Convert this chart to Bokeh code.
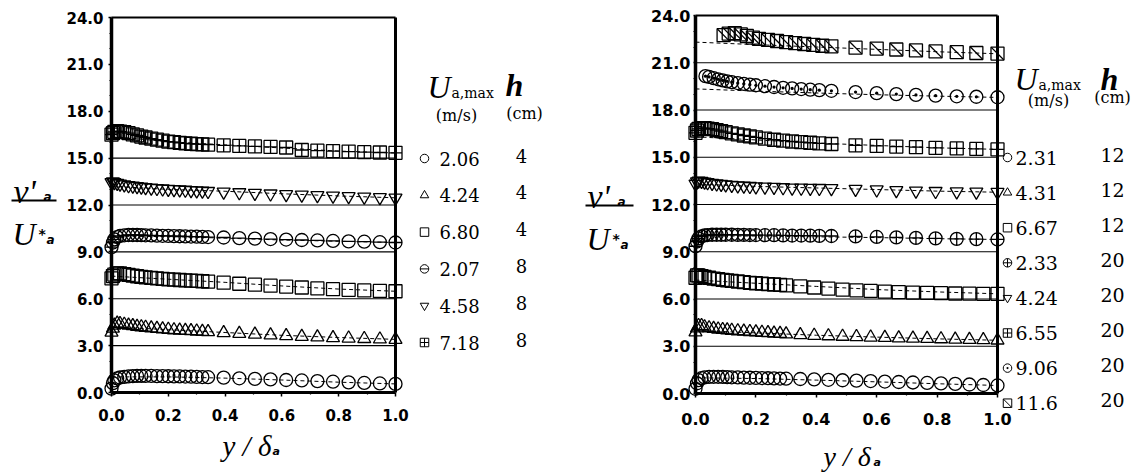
import math
from bokeh.plotting import figure
from bokeh.layouts import row
from bokeh.models import Range1d, LinearAxis, FixedTicker, NumeralTickFormatter
from bokeh.core.properties import value
from bokeh.embed import file_html
from bokeh.resources import INLINE

# ---------------- measured profiles (v'/U*, each run shifted by +3) ----------------
# left panel: h = 4 cm and 8 cm
x_left = [0.0, 0.005, 0.01, 0.02, 0.03, 0.045, 0.06, 0.075, 0.09, 0.105, 0.12, 0.14,
          0.16, 0.18, 0.20, 0.22, 0.24, 0.26, 0.28, 0.30, 0.32, 0.34, 0.395, 0.45,
          0.505, 0.56, 0.615, 0.67, 0.725, 0.78, 0.835, 0.89, 0.945, 1.0]
left_206 = [0.25, 0.6, 0.78, 0.9, 0.96, 1.0, 1.03, 1.05, 1.06, 1.06, 1.06, 1.06,
            1.05, 1.05, 1.04, 1.03, 1.03, 1.02, 1.01, 1.0, 0.99, 0.98, 0.95, 0.91,
            0.87, 0.84, 0.8, 0.77, 0.73, 0.69, 0.65, 0.61, 0.58, 0.55]
left_424 = [3.85, 4.1, 4.3, 4.42, 4.4, 4.35, 4.3, 4.26, 4.22, 4.19, 4.16, 4.12,
            4.09, 4.06, 4.03, 4.0, 3.98, 3.96, 3.94, 3.92, 3.9, 3.88, 3.82, 3.77,
            3.72, 3.67, 3.62, 3.58, 3.54, 3.5, 3.47, 3.44, 3.41, 3.38]
left_680 = [7.3, 7.45, 7.55, 7.62, 7.62, 7.58, 7.53, 7.48, 7.44, 7.4, 7.37, 7.33,
            7.3, 7.27, 7.24, 7.22, 7.2, 7.18, 7.16, 7.14, 7.12, 7.1, 7.03, 6.96,
            6.9, 6.84, 6.78, 6.72, 6.66, 6.61, 6.57, 6.53, 6.5, 6.48]
left_207 = [9.3, 9.6, 9.8, 9.95, 10.02, 10.06, 10.08, 10.08, 10.08, 10.07, 10.06, 10.05,
            10.04, 10.03, 10.02, 10.01, 10.0, 9.99, 9.98, 9.97, 9.96, 9.95, 9.92, 9.88,
            9.85, 9.82, 9.79, 9.76, 9.73, 9.7, 9.67, 9.65, 9.62, 9.6]
left_458 = [13.45, 13.5, 13.45, 13.4, 13.35, 13.3, 13.25, 13.22, 13.19, 13.16, 13.13, 13.1,
            13.07, 13.04, 13.02, 13.0, 12.98, 12.96, 12.94, 12.92, 12.9, 12.88, 12.84, 12.8,
            12.76, 12.72, 12.68, 12.65, 12.62, 12.58, 12.55, 12.52, 12.49, 12.46]
left_718 = [16.5, 16.6, 16.68, 16.72, 16.7, 16.66, 16.6, 16.52, 16.45, 16.38, 16.32, 16.25,
            16.18, 16.12, 16.06, 16.02, 15.98, 15.95, 15.92, 15.9, 15.88, 15.86, 15.82, 15.78,
            15.75, 15.72, 15.68, 15.52, 15.48, 15.45, 15.42, 15.38, 15.36, 15.34]

# right panel: h = 12 cm
x_right_h12 = [0.0, 0.005, 0.01, 0.02, 0.03, 0.045, 0.06, 0.075, 0.09, 0.105, 0.12, 0.14,
               0.16, 0.18, 0.20, 0.22, 0.24, 0.26, 0.28, 0.30, 0.347, 0.393, 0.44, 0.487,
               0.533, 0.58, 0.627, 0.673, 0.72, 0.767, 0.813, 0.86, 0.907, 0.953, 1.0]
right_231 = [0.3, 0.65, 0.85, 0.97, 1.02, 1.05, 1.06, 1.06, 1.05, 1.04, 1.03, 1.02,
             1.01, 1.0, 0.99, 0.98, 0.97, 0.96, 0.95, 0.94, 0.92, 0.9, 0.87, 0.84,
             0.82, 0.79, 0.76, 0.73, 0.7, 0.67, 0.64, 0.61, 0.57, 0.54, 0.51]
right_431 = [3.9, 4.15, 4.3, 4.3, 4.22, 4.16, 4.12, 4.08, 4.05, 4.02, 4.0, 3.97,
             3.94, 3.92, 3.9, 3.87, 3.85, 3.82, 3.8, 3.77, 3.72, 3.68, 3.65, 3.62,
             3.6, 3.57, 3.55, 3.52, 3.5, 3.48, 3.46, 3.44, 3.42, 3.4, 3.38]
right_667 = [7.35, 7.5, 7.5, 7.45, 7.4, 7.35, 7.3, 7.26, 7.22, 7.18, 7.15, 7.11,
             7.07, 7.03, 7.0, 6.97, 6.94, 6.92, 6.9, 6.87, 6.8, 6.73, 6.66, 6.6,
             6.55, 6.51, 6.47, 6.44, 6.41, 6.39, 6.37, 6.35, 6.34, 6.33, 6.33]

# right panel: h = 20 cm
x_right_h20 = [0.0, 0.005, 0.01, 0.02, 0.03, 0.04, 0.055, 0.07, 0.085, 0.10, 0.12, 0.14,
               0.16, 0.18, 0.20, 0.23, 0.26, 0.29, 0.32, 0.35, 0.38, 0.41, 0.45,
               0.53, 0.60, 0.665, 0.73, 0.795, 0.865, 0.93, 1.0]
right_233 = [9.35, 9.65, 9.85, 9.98, 10.04, 10.06, 10.08, 10.08, 10.08, 10.08, 10.08, 10.07,
             10.07, 10.06, 10.06, 10.05, 10.05, 10.04, 10.03, 10.03, 10.02, 10.01, 10.0,
             9.97, 9.94, 9.91, 9.88, 9.85, 9.82, 9.8, 9.78]
right_424 = [13.3, 13.45, 13.5, 13.48, 13.44, 13.4, 13.36, 13.32, 13.29, 13.26, 13.23, 13.2,
             13.18, 13.16, 13.14, 13.12, 13.1, 13.08, 13.06, 13.05, 13.04, 13.03, 13.02,
             12.98, 12.94, 12.9, 12.87, 12.84, 12.82, 12.8, 12.78]
right_655 = [16.55, 16.7, 16.8, 16.85, 16.85, 16.82, 16.78, 16.72, 16.66, 16.6, 16.52, 16.45,
             16.38, 16.32, 16.26, 16.18, 16.11, 16.05, 16.0, 15.96, 15.92, 15.88, 15.84,
             15.76, 15.72, 15.68, 15.64, 15.6, 15.56, 15.53, 15.5]
x_right_906 = [0.033, 0.045, 0.06, 0.075, 0.09, 0.105, 0.12, 0.14, 0.16, 0.18, 0.20, 0.23,
               0.26, 0.29, 0.32, 0.35, 0.38, 0.41, 0.45, 0.53, 0.60, 0.665, 0.73, 0.795,
               0.865, 0.93, 1.0]
right_906 = [20.15, 20.1, 20.02, 19.95, 19.88, 19.82, 19.77, 19.71, 19.66, 19.61, 19.57, 19.51,
             19.46, 19.41, 19.37, 19.33, 19.29, 19.26, 19.22, 19.14, 19.07, 19.01, 18.96, 18.91,
             18.87, 18.84, 18.81]
x_right_116 = [0.093, 0.11, 0.13, 0.15, 0.17, 0.19, 0.21, 0.24, 0.27, 0.30, 0.33, 0.36,
               0.39, 0.42, 0.45, 0.53, 0.60, 0.665, 0.73, 0.795, 0.865, 0.93, 1.0]
right_116 = [22.75, 22.85, 22.88, 22.8, 22.7, 22.6, 22.52, 22.45, 22.38, 22.31, 22.25, 22.19,
             22.13, 22.08, 22.04, 21.96, 21.9, 21.84, 21.78, 21.72, 21.67, 21.62, 21.58]

# fitted curves (dashed), sampled at fit_x
fit_x = [0.0, 0.2, 0.4, 0.6, 0.8, 1.0]
left_fits = [
    [1.0, 1.0, 0.92, 0.80, 0.66, 0.55],
    [4.2, 4.02, 3.84, 3.66, 3.52, 3.4],
    [7.45, 7.25, 7.05, 6.82, 6.62, 6.48],
    [10.0, 9.98, 9.88, 9.76, 9.68, 9.6],
    [13.2, 13.0, 12.88, 12.72, 12.58, 12.46],
    [16.4, 16.05, 15.85, 15.65, 15.45, 15.33],
]
right_fits = [
    [1.0, 0.95, 0.85, 0.74, 0.62, 0.51],
    [4.0, 3.85, 3.7, 3.58, 3.47, 3.38],
    [7.2, 7.0, 6.8, 6.6, 6.45, 6.33],
    [10.0, 10.0, 9.95, 9.9, 9.83, 9.78],
    [13.3, 13.15, 13.05, 12.95, 12.85, 12.78],
    [16.3, 16.1, 15.9, 15.75, 15.6, 15.5],
    [19.34, 19.2, 19.08, 18.97, 18.88, 18.8],
    [22.31, 22.15, 22.0, 21.85, 21.7, 21.57],
]

# legend tables
left_umax = ["2.06", "4.24", "6.80", "2.07", "4.58", "7.18"]
left_h = ["4", "4", "4", "8", "8", "8"]
left_symbols = ["circle", "triangle", "square", "circle_bar", "inverted_triangle", "square_cross"]
right_umax = ["2.31", "4.31", "6.67", "2.33", "4.24", "6.55", "9.06", "11.6"]
right_h = ["12", "12", "12", "20", "20", "20", "20", "20"]
right_symbols = ["circle", "triangle", "square", "circle_cross", "inverted_triangle",
                 "square_cross", "circle_dot", "square_slash"]

left_offsets = [0, 3, 6, 9, 12, 15]
right_offsets = [0, 3, 6, 9, 12, 15, 18, 21]

x_ticks = [0.0, 0.2, 0.4, 0.6, 0.8, 1.0]
x_minor = [0.1, 0.3, 0.5, 0.7, 0.9]
y_ticks = [0, 3, 6, 9, 12, 15, 18, 21, 24]
y_minor = [v for v in range(25) if v % 3]

left_series = [(x_left, left_206), (x_left, left_424), (x_left, left_680),
               (x_left, left_207), (x_left, left_458), (x_left, left_718)]
right_series = [(x_right_h12, right_231), (x_right_h12, right_431), (x_right_h12, right_667),
                (x_right_h20, right_233), (x_right_h20, right_424), (x_right_h20, right_655),
                (x_right_906, right_906), (x_right_116, right_116)]

HEIGHT = 474
SERIF = "DejaVu Serif"
TIMES = "Liberation Serif"
SANS = "DejaVu Sans"


class Frame:
    """Maps canvas pixels of one panel onto its data coordinates."""

    def __init__(self, width, ox, x1, top, oy):
        self.ox, self.oy = ox, oy
        self.sx = (x1 - ox)
        self.sy = (oy - top) / 24.0
        self.x_start = -ox / self.sx
        self.x_end = (width - ox) / self.sx
        self.y_end = 24.0 + top / self.sy
        self.y_start = -(HEIGHT - oy) / self.sy

    def X(self, px):
        return (px - self.ox) / self.sx

    def Y(self, py):
        return (self.oy - py) / self.sy


def draw_marker(p, kind, xs, ys, size, lw):
    style = dict(size=size, line_color="black", line_width=lw, fill_color=None)
    if kind == "circle_bar":
        p.scatter(xs, ys, marker="circle", **style)
        p.scatter(xs, ys, marker="dash", **style)
    elif kind == "square_slash":
        p.scatter(xs, ys, marker="square", **style)
        style["size"] = size * 1.35
        p.scatter(xs, ys, marker="dash", angle=-math.pi / 4, **style)
    else:
        p.scatter(xs, ys, marker=kind, **style)


def put_text(p, fr, px, py, s, font, size, style="normal", align="left", baseline="middle"):
    p.text(x=[fr.X(px)], y=[fr.Y(py)], text=[s], text_font=value(font),
           text_font_size=value(f"{size}px"), text_font_style=style,
           text_align=align, text_baseline=baseline, text_color="black")


def build_panel(width, fr, series, symbols, offsets, fits, umax, hval, lay):
    p = figure(width=width, height=HEIGHT, output_backend="svg", toolbar_location=None,
               x_range=Range1d(fr.x_start, fr.x_end), y_range=Range1d(fr.y_start, fr.y_end),
               x_axis_location=None, y_axis_location=None, min_border=0)
    p.outline_line_color = None
    p.background_fill_color = "white"
    p.border_fill_color = "white"
    p.grid.visible = False

    tick_font = dict(major_label_text_font=SANS, major_label_text_font_style="bold",
                     major_label_text_font_size=f"{lay['tick_size']}px",
                     major_label_text_color="black")
    xa = LinearAxis(fixed_location=0, bounds=(0, 1),
                    ticker=FixedTicker(ticks=x_ticks, minor_ticks=x_minor),
                    formatter=NumeralTickFormatter(format="0.0"),
                    axis_line_width=3, axis_line_color="black",
                    major_tick_in=0, major_tick_out=4, minor_tick_in=0, minor_tick_out=2,
                    major_tick_line_width=1.5, minor_tick_line_width=1.2,
                    major_label_standoff=lay["x_standoff"], **tick_font)
    ya = LinearAxis(fixed_location=0, bounds=(0, 24),
                    ticker=FixedTicker(ticks=y_ticks, minor_ticks=y_minor),
                    formatter=NumeralTickFormatter(format="0.0"),
                    axis_line_width=3.5, axis_line_color="black",
                    major_tick_in=0, major_tick_out=lay["y_tick"], minor_tick_in=0,
                    minor_tick_out=2, major_tick_line_width=1.5, minor_tick_line_width=1.2,
                    major_label_standoff=lay["y_standoff"], **tick_font)
    p.add_layout(xa, "below")
    p.add_layout(ya, "left")

    # closing edges of the plot box
    p.line([0, 1], [24, 24], line_color="black", line_width=2)
    p.line([1, 1], [0, 24], line_color="black", line_width=3)

    # zero line of every shifted run
    base = offsets[1:]
    p.segment(x0=[0] * len(base), x1=[1] * len(base), y0=base, y1=base,
              line_color="black", line_width=1.2)

    # fitted curves
    for f in fits:
        p.line(fit_x, f, line_color="black", line_width=1, line_dash="4 3")

    # data
    for (xs, ys), kind in zip(series, symbols):
        draw_marker(p, kind, xs, ys, 13, 1.3)

    # legend
    lx = lay["leg_marker_x"]
    for i, (kind, u, h) in enumerate(zip(symbols, umax, hval)):
        py = lay["leg_y0"] + i * lay["leg_dy"]
        draw_marker(p, kind, [fr.X(lx)], [fr.Y(py)], 8.5, 1.0)
        put_text(p, fr, lay["leg_text_x"], py, u, SERIF, lay["leg_size"])
        put_text(p, fr, lay["leg_h_x"], py - 3, h, SERIF, lay["leg_size"], align="center")

    hx, hy = lay["head_u"]
    put_text(p, fr, hx, hy, "U", TIMES, 32, style="italic", baseline="alphabetic")
    put_text(p, fr, hx + 24, hy + 6, "a,max", SERIF, 14, baseline="alphabetic")
    put_text(p, fr, lay["head_h"][0], lay["head_h"][1], "h", TIMES, 32,
             style="bold italic", baseline="alphabetic")
    put_text(p, fr, lay["unit_u"][0], lay["unit_u"][1], "(m/s)", SERIF, 16, align="center")
    put_text(p, fr, lay["unit_h"][0], lay["unit_h"][1], "(cm)", SERIF, 16, align="center")

    # y label: v'_a over U_*a
    vx, bar_y, bar_w = lay["ylab"]
    put_text(p, fr, vx + 2, bar_y - 9, "v'", TIMES, 34, style="italic", baseline="alphabetic")
    put_text(p, fr, vx + 32, bar_y - 4, "a", SANS, 12, style="bold italic", baseline="alphabetic")
    p.line([fr.X(vx), fr.X(vx + bar_w)], [fr.Y(bar_y), fr.Y(bar_y)],
           line_color="black", line_width=1.8)
    put_text(p, fr, vx + 1, bar_y + 33, "U", TIMES, 32, style="italic", baseline="alphabetic")
    put_text(p, fr, vx + 27, bar_y + 33, "*", SANS, 14, style="bold", baseline="alphabetic")
    put_text(p, fr, vx + 35, bar_y + 39, "a", SANS, 12, style="bold italic", baseline="alphabetic")

    # x label: y / delta_a
    xl, xb, xs_ = lay["xlab"]
    put_text(p, fr, xl, xb, "y / δ", TIMES, xs_, style="italic", baseline="alphabetic")
    put_text(p, fr, xl + 50, xb + 6, "a", SANS, 11, style="bold italic", baseline="alphabetic")
    return p


left_frame = Frame(565, 111, 395, 17, 392)
left_layout = dict(tick_size=15, x_standoff=12, y_tick=3, y_standoff=5,
                   leg_marker_x=424, leg_text_x=439, leg_h_x=521, leg_y0=158, leg_dy=36.8,
                   leg_size=18, head_u=(427, 86), head_h=(505, 84),
                   unit_u=(456, 115), unit_h=(524, 113),
                   ylab=(11, 200, 45), xlab=(222, 445, 29))
p_left = build_panel(565, left_frame, left_series, left_symbols, left_offsets, left_fits,
                     left_umax, left_h, left_layout)

right_frame = Frame(577, 130, 432, 15, 393)
right_layout = dict(tick_size=16, x_standoff=15, y_tick=2, y_standoff=3,
                    leg_marker_x=442, leg_text_x=450, leg_h_x=547, leg_y0=157, leg_dy=35.1,
                    leg_size=19, head_u=(449, 78), head_h=(535, 78),
                    unit_u=(483, 100), unit_h=(547, 97),
                    ylab=(20, 205, 48), xlab=(258, 456, 28))
p_right = build_panel(577, right_frame, right_series, right_symbols, right_offsets, right_fits,
                      right_umax, right_h, right_layout)

layout = row(p_left, p_right)
open("out.html", "w").write(file_html(layout, INLINE))
